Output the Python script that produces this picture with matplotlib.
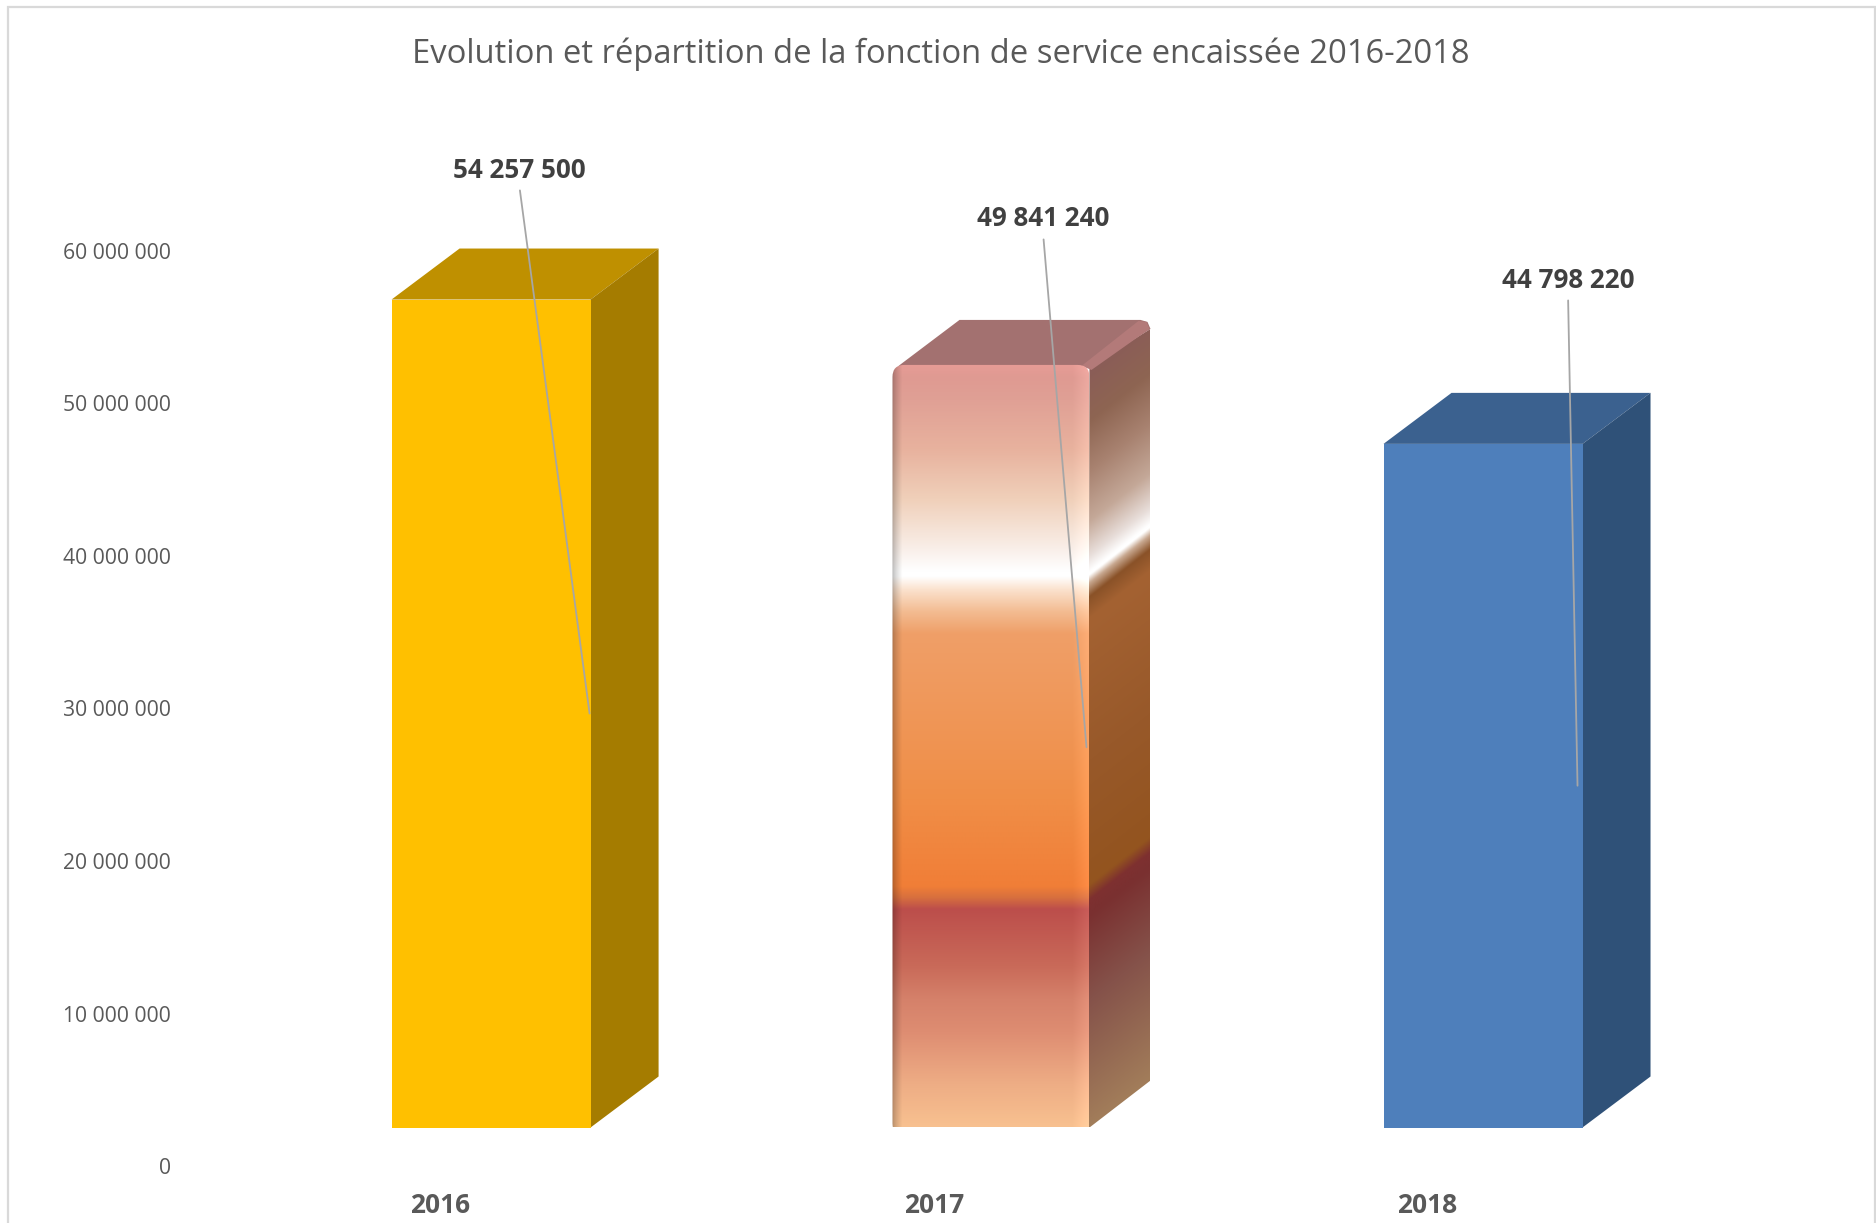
import numpy as np
import matplotlib
matplotlib.use("Agg")
import matplotlib.pyplot as plt
from matplotlib.colors import to_rgb
from matplotlib.patches import Polygon, FancyBboxPatch, Rectangle
from matplotlib.transforms import ScaledTranslation, IdentityTransform

plt.rcParams['font.family'] = ['Open Sans', 'DejaVu Sans']

# ---- data ----
years = ['2016', '2017', '2018']
values = [54257500, 49841240, 44798220]
value_labels = ['54 257 500', '49 841 240', '44 798 220']
yticks = [0, 10000000, 20000000, 30000000, 40000000, 50000000, 60000000]
ytick_labels = ['0', '10 000 000', '20 000 000', '30 000 000', '40 000 000', '50 000 000', '60 000 000']
title = 'Evolution et répartition de la fonction de service encaissée 2016-2018'

# ---- layout (pixels of the 1876x1223 canvas, y from the top) ----
W, H = 1876, 1223
PX_PER_CAT = 493.5          # horizontal spacing of the categories
PX_PER_VAL = 152.6 / 1e7    # pixels per unit of value
CAT0_PX = 440.5             # x of the first category label
BASE_PX = 1127.5            # y of value 0 on the front plane of the bars
AX_L, AX_R, AX_T, AX_B = 178, 1872, 60, 1165

fig = plt.figure(figsize=(W / 100, H / 100), dpi=100, facecolor='white')
ax = fig.add_axes([AX_L / W, 1 - AX_B / H, (AX_R - AX_L) / W, (AX_B - AX_T) / H])
ax.set_xlim((AX_L - CAT0_PX) / PX_PER_CAT, (AX_R - CAT0_PX) / PX_PER_CAT)
ax.set_ylim((BASE_PX - AX_B) / PX_PER_VAL, (BASE_PX - AX_T) / PX_PER_VAL)
for s in ax.spines.values():
    s.set_visible(False)
ax.patch.set_alpha(0)

sx = 1 / PX_PER_CAT   # data x per pixel
sy = 1 / PX_PER_VAL   # data y per pixel

bar_shift = [0.1025, 0.1155, 0.1125]
bar_w = [199 * sx, 197 * sx, 199 * sx]
depth = [(68 * sx, 51 * sy), (61 * sx, 47 * sy), (68 * sx, 51 * sy)]
solid = {0: ('#FFC000', '#BF9000', '#A57C00'),
         2: ('#4E7FBB', '#3B618F', '#2F5178')}

# flat bars
for i in (0, 2):
    c = i + bar_shift[i]
    l, r = c - bar_w[i] / 2, c + bar_w[i] / 2
    v = values[i]
    dx, dy = depth[i]
    front, top, side = solid[i]
    ax.add_patch(Polygon([(l, v), (l + dx, v + dy), (r + dx, v + dy), (r, v)], fc=top, ec='none', zorder=2))
    ax.add_patch(Polygon([(r, 0), (r + dx, dy), (r + dx, v + dy), (r, v)], fc=side, ec='none', zorder=2))
    ax.add_patch(Rectangle((l, 0), r - l, v, fc=front, ec='none', zorder=3))

# gradient bar (2017)
front_stops = [(364, '#E89C96'), (378, '#DF9A92'), (400, '#E0A095'), (450, '#E8B29E'), (500, '#F0D0BA'),
               (550, '#F9EFE9'), (572, '#FFFFFF'), (577, '#FFFFFF'), (590, '#FBE2CE'), (612, '#F3BC92'),
               (634, '#EF9F68'), (800, '#F08E47'), (887, '#F07E37'), (898, '#D8703E'), (910, '#BC4E4B'),
               (967, '#C96A59'), (1000, '#D5816A'), (1033, '#DE8D72'), (1085, '#EEAD85'), (1128, '#F8C190')]
side_stops = [(365, '#8A5C58'), (420, '#8E6552'), (470, '#A88270'), (520, '#C4A898'), (555, '#E8DEDA'),
              (571, '#FFFFFF'), (574, '#FFFFFF'), (582, '#C8A890'), (596, '#8A5228'), (618, '#A46232'), (760, '#98592A'),
              (885, '#93541F'), (900, '#7E3030'), (915, '#7A3030'), (1000, '#85524A'), (1128, '#A27D5A')]


def ramp(stops, q):
    ys = np.array([s[0] for s in stops], float)
    cols = np.array([to_rgb(s[1]) for s in stops])
    return np.stack([np.interp(q, ys, cols[:, k]) for k in range(3)], axis=-1)


i = 1
c = i + bar_shift[i]
l, r = c - bar_w[i] / 2, c + bar_w[i] / 2
v = values[i]
dx, dy = depth[i]
v_top = v + 2 * sy
fig.canvas.draw()
(px_l, py_b) = ax.transData.transform((l, 0))
(px_r, py_t) = ax.transData.transform((r, v_top))
n_x, n_y = int(px_r - px_l), int(py_t - py_b)
top_px = H - py_t
bot_px = H - py_b
yy = np.linspace(top_px, bot_px, n_y)
xx = np.linspace(0, 1, n_x) * (px_r - px_l)
img = ramp(front_stops, yy)[:, None, :].repeat(n_x, axis=1)
# edge shading of the bevel
left_edge = np.clip(xx / 10, 0, 1)
shade = 0.72 + 0.28 * left_edge ** 0.7
right_edge = np.clip((xx - (px_r - px_l - 16)) / 16, 0, 1)
img = img * shade[None, :, None]
img = np.clip(img + (right_edge[None, :, None] * 0.055), 0, 1)
im = ax.imshow(img, extent=(l, r, 0, v_top), origin='upper', aspect='auto', interpolation='bilinear', zorder=3)
clip = FancyBboxPatch((px_l + 12, py_b + 4), px_r - px_l - 24, py_t - py_b - 16,
                      boxstyle='round,pad=12,rounding_size=12', transform=IdentityTransform())
im.set_clip_path(clip)

# side face, gradient sheared along the depth
d_px, e_px = dx * PX_PER_CAT, dy * PX_PER_VAL
ns_x, ns_y = int(d_px) + 1, int(bot_px - top_px + e_px) + 1
sxx = np.linspace(0, d_px, ns_x)
syy = np.linspace(top_px - e_px, bot_px, ns_y)
q = syy[:, None] + sxx[None, :] * (e_px / d_px)
simg = ramp(side_stops, q)
sim = ax.imshow(simg, extent=(r, r + dx, 0, v + dy), origin='upper', aspect='auto', interpolation='bilinear', zorder=2)
side_poly = Polygon([(r - 2 * sx, -1 * sy), (r, 0), (r + dx, dy), (r + dx, v + dy - 9 * sy), (r, v)],
                    fc='none', ec='none', zorder=2, transform=ax.transData)
ax.add_patch(side_poly)
sim.set_clip_path(side_poly)
# top face
ax.add_patch(Polygon([(l + 6 * sx, v + 1 * sy), (l + dx + 6 * sx, v + dy), (r + dx - 10 * sx, v + dy),
                      (r + dx - 3 * sx, v + dy - 2 * sy), (r + dx, v + dy - 9 * sy), (r, v)],
                     fc='#A37170', ec='none', zorder=2))
ax.add_patch(Polygon([(r - 8 * sx, v + 1 * sy), (r + dx - 12 * sx, v + dy - 1 * sy),
                      (r + dx - 4 * sx, v + dy - 2 * sy), (r + dx - 1 * sx, v + dy - 9 * sy),
                      (r + 2 * sx, v - 3 * sy)], fc='#B37A79', ec='none', zorder=2.5))

# value labels with their leaders
label_px = [(519, 170), (1043, 219), (1568, 280)]
end_inset = [1, 3, 5]
for i, (txt, val) in enumerate(zip(value_labels, values)):
    right = i + bar_shift[i] + bar_w[i] / 2 - end_inset[i] * sx
    ax.annotate(txt, xy=(right, val / 2), xycoords='data',
                xytext=(label_px[i][0], H - label_px[i][1]), textcoords='figure pixels',
                ha='center', va='center', fontsize=18.7, fontweight='bold', color='#404040',
                arrowprops=dict(arrowstyle='-', color='#A6A6A6', lw=1.3, shrinkA=3, shrinkB=0, relpos=(0.5, 0)),
                zorder=6)

# axes
ax.set_yticks(yticks)
ax.set_yticklabels(ytick_labels, fontsize=15.2, color='#595959')
ax.set_xticks(range(len(years)))
ax.set_xticklabels(years, fontsize=19, fontweight='bold', color='#595959')
ax.tick_params(axis='both', length=0)
ax.tick_params(axis='y', pad=5)
ax.tick_params(axis='x', pad=19.5)
off = ScaledTranslation(0, -38.7 / 100, fig.dpi_scale_trans)
for lab in ax.get_yticklabels():
    lab.set_transform(lab.get_transform() + off)

# title
fig.text(941 / W, 1 - 54 / H, title, ha='center', va='center', fontsize=23.55, color='#595959')

# chart frame
fig.add_artist(Rectangle((8 / W, -0.01), (1875 - 8) / W, 1 - 7 / H + 0.01, transform=fig.transFigure,
                         fc='none', ec='#D9D9D9', lw=1.6))

fig.savefig('out.png', dpi=100)
